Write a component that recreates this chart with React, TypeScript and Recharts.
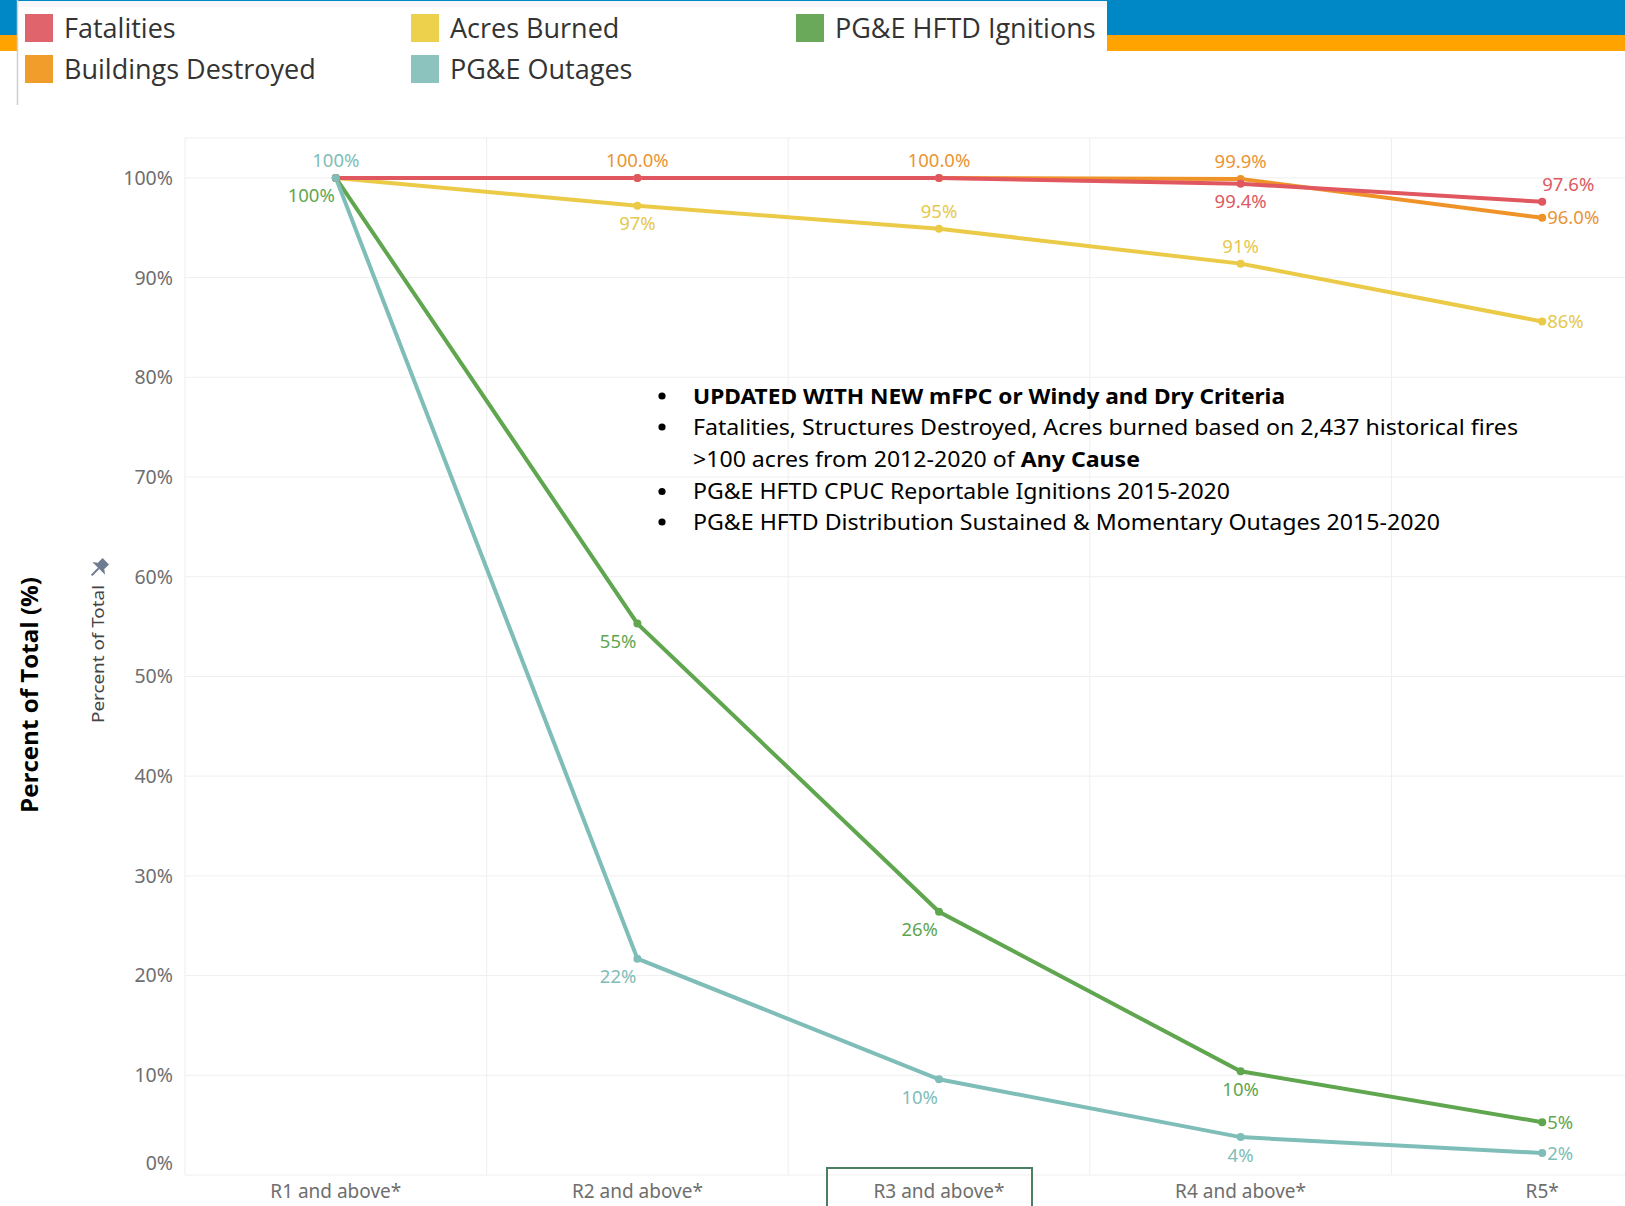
import React from "react";
import { LineChart, Line, XAxis, YAxis, CartesianGrid, ReferenceLine, LabelList } from "recharts";

// rating thresholds on the x axis
const categories = ["R1 and above*", "R2 and above*", "R3 and above*", "R4 and above*", "R5*"];
const selectedCategory = "R3 and above*";

// percent of total
const fatalities = [100, 100.0, 100.0, 99.4, 97.6];
const buildingsDestroyed = [100, 100.0, 100.0, 99.9, 96.0];
const acresBurned = [100, 97.2, 94.9, 91.4, 85.6];
const hftdIgnitions = [100, 55.3, 26.4, 10.4, 5.3];
const pgeOutages = [100, 21.7, 9.6, 3.8, 2.2];

const yTicks = [0, 10, 20, 30, 40, 50, 60, 70, 80, 90, 100];

const FONT = "'Noto Sans', 'Open Sans', sans-serif";

// which labels Tableau shows, and where
const series = [
  { key: "acres", name: "Acres Burned", color: "#ebca47", labelColor: "#e6c84c", values: acresBurned, decimals: 0, labels: [null, "below", "above", "above", "right"] },
  { key: "ignitions", name: "PG&E HFTD Ignitions", color: "#5fa64f", labelColor: "#5fa64f", values: hftdIgnitions, decimals: 0, labels: ["belowLeft", "belowLeft", "belowLeft", "below", "right"] },
  { key: "buildings", name: "Buildings Destroyed", color: "#ef9328", labelColor: "#ea9433", values: buildingsDestroyed, decimals: 1, labels: [null, "above", "above", "above", "right"] },
  { key: "fatalities", name: "Fatalities", color: "#e0575f", labelColor: "#dc5a62", values: fatalities, decimals: 1, labels: [null, null, null, "below", "aboveRight"] },
  { key: "outages", name: "PG&E Outages", color: "#7fbdb8", labelColor: "#7fbdb8", values: pgeOutages, decimals: 0, labels: ["above", "belowLeft", "belowLeft", "below", "right"] },
];

const legendOrder = [
  ["Fatalities", "Acres Burned", "PG&E HFTD Ignitions"],
  ["Buildings Destroyed", "PG&E Outages"],
];
const legendColors = {
  "Fatalities": "#e0646b",
  "Acres Burned": "#edd04c",
  "PG&E HFTD Ignitions": "#6aa85a",
  "Buildings Destroyed": "#f09d2c",
  "PG&E Outages": "#8cc3be",
};

const rows = categories.map((c, i) => {
  const row: any = { idx: i, category: c };
  series.forEach((s) => (row[s.key] = s.values[i]));
  return row;
});

const makeLabel = (s) => (props: any) => {
  const x = props.x ?? props.viewBox?.x;
  const y = props.y ?? props.viewBox?.y;
  const i = props.value;
  const pos = s.labels[i];
  if (!pos || x == null || y == null) return null;
  const text = s.values[i].toFixed(s.decimals) + "%";
  let tx = x;
  let ty = y;
  let anchor = "middle";
  if (pos === "above") ty = y - 17;
  if (pos === "below") ty = y + 18;
  if (pos === "belowLeft") { ty = y + 18; tx = x - 1; anchor = "end"; }
  if (pos === "aboveRight") { ty = y - 17; anchor = "start"; }
  if (pos === "right") { tx = x + 5; anchor = "start"; }
  return (
    <text key={`${s.key}-${i}`} x={tx} y={ty} dy="0.35em" textAnchor={anchor} fill={s.labelColor} fontSize={18.5} fontFamily={FONT}>
      {text}
    </text>
  );
};

const YTick = ({ x, y, payload }: any) => (
  <text x={x} y={payload.value === 0 ? y - 12 : y} dy="0.355em" textAnchor="end" fill="#6e6e6e" fontSize={19.5} fontFamily={FONT}>
    {payload.value}%
  </text>
);

const XTick = ({ x, y, payload }: any) => {
  const label = categories[payload.value];
  return (
    <g>
      {label === selectedCategory && (
        <rect x={x - 112} y={y - 17} width={205} height={60} fill="none" stroke="#4b7f63" strokeWidth={2} />
      )}
      <text x={x} y={y} dy="0.71em" textAnchor="middle" fill="#6e6e6e" fontSize={19} fontFamily={FONT}>
        {label}
      </text>
    </g>
  );
};

const notes = [
  { parts: [{ t: "UPDATED WITH NEW mFPC or Windy and Dry Criteria", b: true }], bullet: true, len: 592 },
  { parts: [{ t: "Fatalities, Structures Destroyed, Acres burned based on 2,437 historical fires", b: false }], bullet: true, len: 825 },
  { parts: [{ t: ">100 acres from 2012-2020 of ", b: false }, { t: "Any Cause", b: true }], bullet: false, len: 447 },
  { parts: [{ t: "PG&E HFTD CPUC Reportable Ignitions 2015-2020", b: false }], bullet: true, len: 537 },
  { parts: [{ t: "PG&E HFTD Distribution Sustained & Momentary Outages 2015-2020", b: false }], bullet: true, len: 747 },
];

const Overlay = () => (
  <svg width={1625} height={1206} style={{ position: "absolute", left: 0, top: 0, pointerEvents: "none" }}>
    {/* header bars */}
    <rect x={0} y={0} width={1625} height={35} fill="#0088c6" />
    <rect x={0} y={35} width={1625} height={16} fill="#ffa300" />
    {/* legend panel */}
    <rect x={18} y={1} width={1089} height={104} fill="#ffffff" />
    <rect x={18} y={1} width={1089} height={6} fill="#f8f8fa" />
    <line x1={17.5} y1={0} x2={17.5} y2={105} stroke="#cfcfcf" strokeWidth={1.5} />
    {legendOrder.map((row, r) =>
      row.map((name, c) => {
        const sx = [25, 411, 796][c];
        const cy = [28, 69][r];
        return (
          <g key={name}>
            <rect x={sx} y={cy - 14} width={28} height={28} fill={legendColors[name]} />
            <text x={sx + 39} y={cy} dy="0.36em" fontSize={27} fill="#333" fontFamily="'Open Sans', sans-serif">
              {name}
            </text>
          </g>
        );
      })
    )}
    {/* axis titles */}
    <text transform="rotate(-90, 30, 695)" x={30} y={695} dy="0.35em" textAnchor="middle" fontSize={23} fontWeight="bold" fill="#000" fontFamily="'Open Sans', sans-serif" textLength={236} lengthAdjust="spacingAndGlyphs">
      Percent of Total (%)
    </text>
    <text transform="rotate(-90, 99, 654)" x={99} y={654} dy="0.35em" textAnchor="middle" fontSize={15.5} fill="#444" fontFamily={FONT} textLength={138} lengthAdjust="spacingAndGlyphs">
      Percent of Total
    </text>
    <g transform="translate(98,569) rotate(45)" fill="#6f7b90" stroke="#6f7b90">
      <rect x={-4.5} y={-11} width={9} height={8} strokeWidth={0} />
      <polygon points="-9,-1 9,-1 5,-4 -5,-4" strokeWidth={0} />
      <line x1={0} y1={-1} x2={0} y2={9} strokeWidth={2} />
    </g>
    {/* annotation */}
    {notes.map((n, i) => {
      const cy = [396, 427, 459, 491.5, 522][i];
      return (
        <g key={i}>
          {n.bullet && <circle cx={662} cy={cy} r={3.6} fill="#000" />}
          <text x={693} y={cy} dy="0.36em" fontSize={21} fill="#000" fontFamily={FONT} textLength={n.len} lengthAdjust="spacingAndGlyphs">
            {n.parts.map((p, j) => (
              <tspan key={j} fontWeight={p.b ? "bold" : "normal"}>
                {p.t}
              </tspan>
            ))}
          </text>
        </g>
      );
    })}
  </svg>
);

export default function App() {
  return (
    <div style={{ position: "absolute", left: 0, top: 0, width: 1625, height: 1206, overflow: "hidden", background: "#fff" }}>
      <LineChart width={1693} height={1206} data={rows} margin={{ top: 138, right: 0, bottom: 0, left: 125 }}>
        <CartesianGrid vertical={false} stroke="#efefef" />
        {[-0.5, 0.5, 1.5, 2.5, 3.5].map((v) => (
          <ReferenceLine key={v} x={v} stroke="#eeeeee" strokeWidth={1} />
        ))}
        <XAxis
          dataKey="idx"
          type="number"
          domain={[-0.5, 4.5]}
          ticks={[0, 1, 2, 3, 4]}
          interval={0}
          allowDataOverflow
          axisLine={false}
          tickLine={false}
          tickSize={0}
          tickMargin={10}
          height={31}
          tick={<XTick />}
        />
        <YAxis
          type="number"
          domain={[0, 104]}
          ticks={yTicks}
          allowDataOverflow
          axisLine={false}
          tickLine={false}
          tickSize={8}
          tickMargin={4}
          width={60}
          tick={<YTick />}
        />
        {series.map((s) => (
          <Line
            key={s.key}
            dataKey={s.key}
            name={s.name}
            stroke={s.color}
            strokeWidth={4}
            dot={{ r: 4, fill: s.color, stroke: s.color, strokeWidth: 0 }}
            activeDot={false}
            isAnimationActive={false}
          >
            <LabelList dataKey="idx" content={makeLabel(s)} />
          </Line>
        ))}
      </LineChart>
      <Overlay />
    </div>
  );
}
